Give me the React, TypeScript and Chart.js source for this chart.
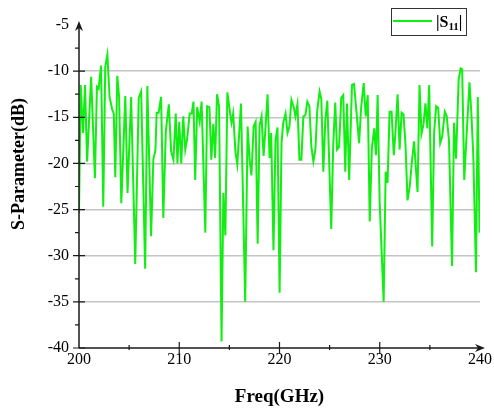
import React, { useEffect, useRef } from "react";
import { Chart, registerables } from "chart.js";

Chart.register(...registerables);

const freqGHz: number[] = [
  200.0, 200.17, 200.4, 200.6, 200.81, 201.21, 201.59, 201.79, 201.96, 202.2,
  202.42, 202.62, 202.83, 203.05, 203.32, 203.47, 203.62, 203.82, 204.0, 204.22,
  204.62, 204.84, 205.2, 205.61, 205.96, 206.2, 206.6, 206.82, 207.19, 207.42,
  207.62, 207.75, 207.94, 208.19, 208.41, 208.66, 208.96, 209.19, 209.42, 209.65,
  209.82, 210.0, 210.2, 210.4, 210.6, 210.79, 211.04, 211.24, 211.42, 211.59,
  211.79, 212.04, 212.23, 212.6, 212.78, 213.01, 213.2, 213.4, 213.58, 213.77,
  213.97, 214.22, 214.4, 214.6, 214.8, 215.03, 215.21, 215.38, 215.61, 215.79,
  216.16, 216.58, 216.82, 217.02, 217.2, 217.42, 217.62, 217.82, 218.01, 218.21,
  218.41, 218.57, 218.81, 219.01, 219.17, 219.4, 219.6, 219.8, 220.01, 220.2,
  220.37, 220.6, 220.8, 220.99, 221.19, 221.42, 221.59, 221.79, 221.99, 222.18,
  222.38, 222.58, 222.78, 222.98, 223.18, 223.38, 223.58, 223.77, 224.0, 224.17,
  224.37, 224.57, 224.77, 225.16, 225.36, 225.56, 225.74, 225.94, 226.16, 226.36,
  226.56, 226.73, 226.95, 227.23, 227.43, 227.63, 227.94, 228.14, 228.4, 228.6,
  228.8, 229.0, 229.21, 229.45, 229.62, 229.79, 229.99, 230.39, 230.59, 230.78,
  230.98, 231.18, 231.4, 231.58, 231.78, 231.98, 232.18, 232.37, 232.57, 232.77,
  232.99, 233.19, 233.42, 233.77, 233.97, 234.16, 234.36, 234.56, 234.75, 234.93,
  235.23, 235.43, 235.63, 235.83, 236.03, 236.23, 236.49, 236.68, 236.91, 237.21,
  237.41, 237.61, 237.87, 238.07, 238.22, 238.43, 238.62, 238.95, 239.13, 239.33,
  239.6, 239.78, 239.95,
];

const s11dB: number[] = [
  -25.4, -11.5, -16.7, -11.5, -19.8, -10.6, -21.6, -11.7, -11.9, -9.4,
  -24.7, -9.5, -8.2, -12.8, -14.2, -14.6, -21.5, -10.5, -12.8, -24.3,
  -12.7, -23.2, -12.8, -30.9, -12.9, -12.2, -31.4, -11.6, -27.9, -19.5,
  -18.6, -14.5, -14.5, -12.8, -25.9, -16.5, -13.6, -18.7, -19.6, -14.6,
  -20.0, -15.5, -20.0, -14.9, -18.5, -17.3, -14.6, -14.6, -13.3, -21.8,
  -13.9, -15.5, -13.3, -27.5, -13.8, -13.9, -19.6, -15.7, -19.4, -12.5,
  -13.8, -39.3, -23.2, -27.8, -12.3, -14.2, -15.6, -14.6, -18.8, -20.1,
  -13.5, -35.0, -16.0, -19.6, -21.3, -16.0, -15.5, -28.7, -15.9, -14.9,
  -19.2, -16.7, -12.5, -19.4, -16.7, -29.4, -17.5, -16.1, -34.0, -17.8,
  -15.6, -14.6, -16.7, -16.0, -13.1, -13.9, -14.9, -13.6, -19.6, -19.6,
  -14.9, -14.8, -13.3, -13.8, -18.2, -19.8, -18.5, -14.2, -12.2, -13.0,
  -20.9, -15.3, -13.2, -27.1, -18.0, -13.4, -18.5, -18.2, -12.9, -12.6,
  -20.9, -13.5, -21.8, -11.5, -11.4, -13.8, -17.8, -14.0, -11.3, -14.9,
  -12.6, -26.3, -18.4, -16.2, -19.1, -12.6, -24.2, -35.0, -20.9, -22.1,
  -14.4, -14.4, -19.1, -16.4, -12.5, -18.5, -14.5, -14.7, -18.0, -24.0,
  -22.5, -20.0, -17.6, -23.1, -11.5, -16.8, -15.8, -13.5, -16.2, -11.5,
  -29.0, -16.5, -13.8, -14.0, -17.8, -17.1, -14.4, -14.9, -17.6, -31.1,
  -15.6, -19.5, -10.9, -9.7, -9.8, -21.8, -17.8, -11.2, -14.4, -19.1,
  -31.8, -12.8, -27.5,
];

const xTickValues: number[] = [200, 210, 220, 230, 240];
const yTickValues: number[] = [-40, -35, -30, -25, -20, -15, -10, -5];
const seriesLabel = "|S11|";
const xTitle = "Freq(GHz)";
const yTitle = "S-Parameter(dB)";

const GREEN = "#11ee11";
const AXIS = "#1a1a1a";

const overlayPlugin = {
  id: "overlay",
  afterDraw(chart: any) {
    const ctx = chart.ctx;
    const { left, right, top, bottom } = chart.chartArea;
    const xs = chart.scales.x;
    const ys = chart.scales.y;
    ctx.save();
    ctx.strokeStyle = AXIS;
    ctx.fillStyle = AXIS;
    ctx.lineWidth = 1.5;
    // axes lines
    ctx.beginPath();
    ctx.moveTo(left, bottom);
    ctx.lineTo(left, top + 2);
    ctx.moveTo(left, bottom);
    ctx.lineTo(right + 2, bottom);
    ctx.stroke();
    // arrows
    ctx.beginPath();
    ctx.moveTo(left, top - 4);
    ctx.lineTo(left - 4, top + 6);
    ctx.lineTo(left, top + 3);
    ctx.lineTo(left + 4, top + 6);
    ctx.closePath();
    ctx.fill();
    ctx.beginPath();
    ctx.moveTo(right + 5, bottom);
    ctx.lineTo(right - 5, bottom - 4);
    ctx.lineTo(right - 2, bottom);
    ctx.lineTo(right - 5, bottom + 4);
    ctx.closePath();
    ctx.fill();
    // y ticks
    ctx.lineWidth = 1.2;
    ctx.beginPath();
    for (let v = -40; v < -5; v += 5) {
      const y = ys.getPixelForValue(v);
      ctx.moveTo(left - 6, y);
      ctx.lineTo(left + 6, y);
    }
    for (let v = -37.5; v < -5; v += 5) {
      const y = ys.getPixelForValue(v);
      ctx.moveTo(left - 4, y);
      ctx.lineTo(left, y);
    }
    // x ticks
    for (let v = 210; v < 240; v += 10) {
      const x = xs.getPixelForValue(v);
      ctx.moveTo(x, bottom - 6);
      ctx.lineTo(x, bottom + 6);
    }
    for (let v = 205; v < 240; v += 10) {
      const x = xs.getPixelForValue(v);
      ctx.moveTo(x, bottom - 3);
      ctx.lineTo(x, bottom + 2);
    }
    ctx.stroke();

    // titles
    ctx.fillStyle = "#000";
    ctx.font = "bold 19px 'Liberation Serif', 'Times New Roman', serif";
    ctx.textAlign = "center";
    ctx.textBaseline = "middle";
    ctx.fillText(xTitle, (left + right) / 2, 397);
    ctx.save();
    ctx.translate(19, 164);
    ctx.rotate(-Math.PI / 2);
    ctx.font = "bold 18px 'Liberation Serif', 'Times New Roman', serif";
    ctx.fillText(yTitle, 0, 0);
    ctx.restore();

    // legend
    ctx.strokeStyle = "#333";
    ctx.lineWidth = 1;
    ctx.strokeRect(391.5, 8.5, 75, 27);
    ctx.strokeStyle = GREEN;
    ctx.lineWidth = 2;
    ctx.beginPath();
    ctx.moveTo(393, 21);
    ctx.lineTo(432, 21);
    ctx.stroke();
    ctx.fillStyle = "#000";
    ctx.textAlign = "left";
    ctx.textBaseline = "alphabetic";
    ctx.font = "bold 16px 'Liberation Serif', 'Times New Roman', serif";
    const bar = "|";
    let tx = 436;
    ctx.fillText(bar + seriesLabel.slice(1, 2), tx, 27);
    tx += ctx.measureText(bar + seriesLabel.slice(1, 2)).width;
    ctx.font = "bold 11px 'Liberation Serif', 'Times New Roman', serif";
    ctx.fillText(seriesLabel.slice(2, 4), tx, 30);
    tx += ctx.measureText(seriesLabel.slice(2, 4)).width;
    ctx.font = "bold 16px 'Liberation Serif', 'Times New Roman', serif";
    ctx.fillText(bar, tx, 27);
    ctx.restore();
  },
};

export default function App() {
  const canvasRef = useRef<HTMLCanvasElement | null>(null);

  useEffect(() => {
    if (!canvasRef.current) return;
    const points = freqGHz.map((f, i) => ({ x: f, y: s11dB[i] }));
    const tickFont = { family: "'Liberation Serif', 'Times New Roman', serif", size: 16 };
    const chart = new Chart(canvasRef.current, {
      type: "line",
      data: {
        datasets: [
          {
            label: seriesLabel,
            data: points,
            borderColor: GREEN,
            backgroundColor: GREEN,
            borderWidth: 2,
            pointRadius: 0,
            tension: 0,
          },
        ],
      },
      options: {
        animation: false,
        responsive: false,
        maintainAspectRatio: false,
        layout: { padding: { left: 0, right: 12, top: 25, bottom: 0 } },
        plugins: {
          legend: { display: false },
          tooltip: { enabled: false },
        },
        scales: {
          x: {
            type: "linear",
            min: 200,
            max: 240,
            afterBuildTicks: (s: any) => {
              s.ticks = xTickValues.map((v) => ({ value: v }));
            },
            afterFit: (s: any) => {
              s.height = 63;
            },
            ticks: { color: "#000", font: tickFont, padding: 2, maxRotation: 0 },
            grid: { display: false, drawTicks: false },
            border: { display: false },
          },
          y: {
            type: "linear",
            min: -40,
            max: -5,
            afterBuildTicks: (s: any) => {
              s.ticks = yTickValues.map((v) => ({ value: v }));
            },
            afterFit: (s: any) => {
              s.width = 79;
            },
            ticks: { color: "#000", font: tickFont, padding: 10 },
            grid: {
              drawTicks: false,
              lineWidth: 1.5,
              color: (c: any) =>
                c.tick && c.tick.value <= -10 && c.tick.value >= -35 ? "#c4c4c4" : "rgba(0,0,0,0)",
            },
            border: { display: false },
          },
        },
      },
      plugins: [overlayPlugin],
    });
    return () => chart.destroy();
  }, []);

  return (
    <div style={{ position: "fixed", left: 0, top: 0, width: 494, height: 411, background: "#fff" }}>
      <canvas ref={canvasRef} width={494} height={411} style={{ width: 494, height: 411 }} />
    </div>
  );
}
